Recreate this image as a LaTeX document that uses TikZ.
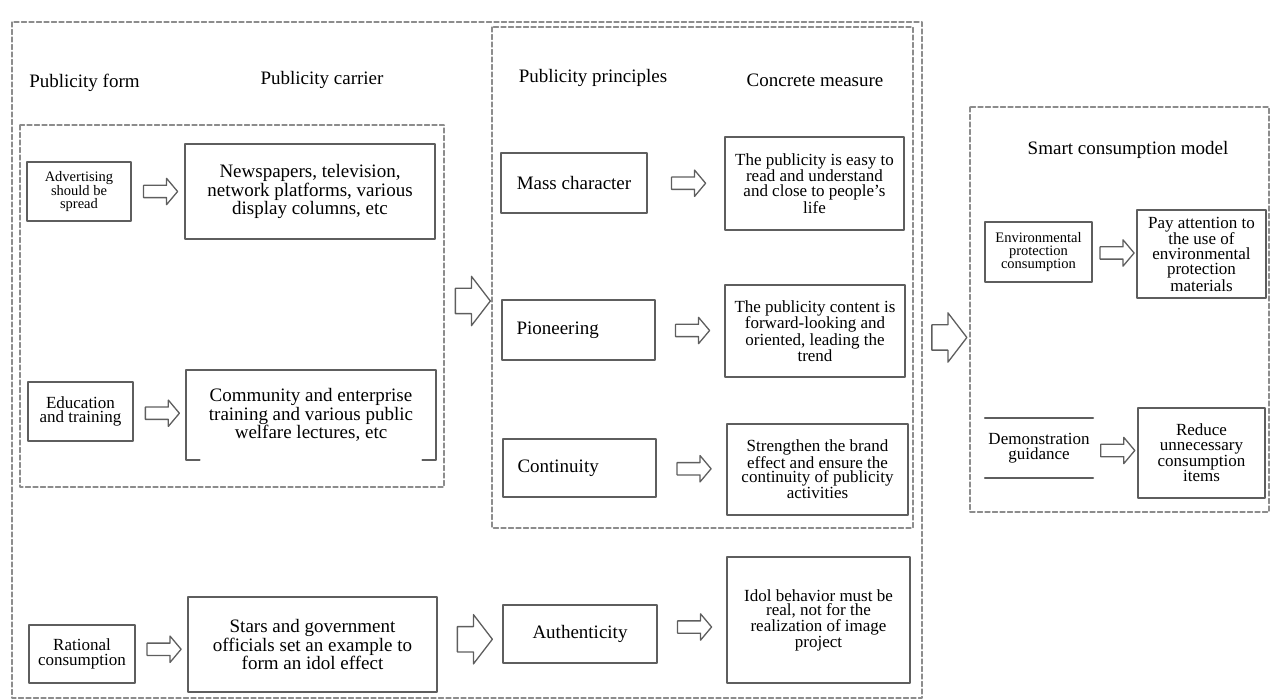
\documentclass[tikz,border=0pt]{standalone}
\usepackage{fontspec}
\setmainfont{Liberation Serif}
\usetikzlibrary{shapes.arrows,calc,positioning}
\definecolor{linegray}{HTML}{5E5E5E}
\definecolor{dashgray}{HTML}{8C8C8C}
\tikzset{
  box/.style={draw=linegray,line width=1.6pt,align=center,inner sep=2pt},
  dbox/.style={draw=dashgray,line width=1.3pt,dash pattern=on 5pt off 2.5pt},
  arr/.style={single arrow,draw=linegray,line width=1.3pt,inner xsep=0pt,inner ysep=5.5pt,
    single arrow head extend=7pt,minimum height=34pt,single arrow tip angle=100},
  bigarr/.style={arr,inner ysep=12pt,single arrow head extend=12pt,minimum height=35pt,single arrow tip angle=105},
  head/.style={font=\fontsize{19}{20}\selectfont},
  sm/.style={font=\fontsize{14.5}{13}\selectfont},
  md/.style={font=\fontsize{17}{14.5}\selectfont},
  lg/.style={font=\fontsize{19}{15}\selectfont}
}

\begin{document}
\begin{tikzpicture}[x=1pt,y=-1pt,line join=round,line cap=round]
\useasboundingbox (0,0) rectangle (1272,700);
% dashed groups
\draw[dbox] (12,22) rectangle (922,698);
\draw[dbox] (20,125) rectangle (444,487);
\draw[dbox] (492,27) rectangle (913,528);
\draw[dbox] (970,107) rectangle (1269,512);
% headings
\node[head] (h1) at (84.5,83) {Publicity form};
\node[head] (h2) at (322,80) {Publicity carrier};
\node[head] (h3) at (593,78) {Publicity principles};
\node[head] (h4) at (815,80) {Concrete measure};
\node[head] (h5) at (1128,150) {Smart consumption model};
% publicity form
\node[box,sm,minimum width=104pt,minimum height=59pt] (f1) at (79,191.5) {Advertising\\should be\\spread};
\node[box,md,minimum width=105pt,minimum height=59pt] (f2) at (80.5,411.5) {Education\\and training};
\node[box,md,minimum width=106pt,minimum height=58pt] (f3) at (82,654) {Rational\\consumption};
% publicity carrier
\node[box,lg,minimum width=250pt,minimum height=95pt] (c1) at (310,191.5) {Newspapers, television,\\network platforms, various\\display columns, etc};
\node[lg,align=center,inner sep=2pt,minimum width=250pt,minimum height=90pt] (c2) at (311,415) {Community and enterprise\\training and various public\\welfare lectures, etc};
\draw[linegray,line width=1.6pt] ($(c2.south west)+(14,0)$) -- (c2.south west) -- (c2.north west) -- (c2.north east) -- (c2.south east) -- ++(-14,0);
\node[box,lg,minimum width=249pt,minimum height=95pt] (c3) at (312.5,644.5) {Stars and government\\officials set an example to\\form an idol effect};
% publicity principles
\node[box,lg,minimum width=146pt,minimum height=60pt] (p1) at (574,183) {Mass character};
\node[box,lg,minimum height=60pt,text width=124pt,inner xsep=14.5pt,align=left] (p2) at (578.5,330) {Pioneering};
\node[box,lg,minimum height=58pt,text width=124pt,inner xsep=14.5pt,align=left] (p3) at (579.5,468) {Continuity};
\node[box,lg,minimum width=154pt,minimum height=58pt] (p4) at (580,634) {Authenticity};
% concrete measure
\node[box,md,minimum width=179pt,minimum height=93pt] (m1) at (814.5,183.5) {The publicity is easy to\\read and understand\\and close to people's\\life};
\node[box,md,minimum width=180pt,minimum height=92pt] (m2) at (815,331) {The publicity content is\\forward-looking and\\oriented, leading the\\trend};
\node[box,md,minimum width=181pt,minimum height=91pt] (m3) at (817.5,469.5) {Strengthen the brand\\effect and ensure the\\continuity of publicity\\activities};
\node[box,md,minimum width=183pt,minimum height=126pt] (m4) at (818.5,620) {Idol behavior must be\\real, not for the\\realization of image\\project};
% smart consumption model
\node[box,sm,minimum width=107pt,minimum height=60pt] (e1) at (1038.5,252) {Environmental\\protection\\consumption};
\node[box,md,font=\fontsize{17}{15}\selectfont,minimum width=129pt,minimum height=88pt] (e2) at (1201.5,254) {Pay attention to\\the use of\\environmental\\protection\\materials};
\node[md,align=center,inner sep=2pt,minimum width=108pt,minimum height=60pt] (d1) at (1039,448) {Demonstration\\guidance};
\draw[linegray,line width=1.6pt] (d1.north west) -- (d1.north east) (d1.south west) -- (d1.south east);
\node[box,md,minimum width=127pt,minimum height=90pt] (d2) at (1201.5,453) {Reduce\\unnecessary\\consumption\\items};
% arrows
\foreach \u/\v in {f1/c1,f2/c2,f3/c3,p1/m1,p2/m2,p3/m3,p4/m4,e1/e2,d1/d2}{
  \node[arr] (a-\u) at ($(\u.east)!0.5!(\v.west)$) {};
}
\node[bigarr] (b1) at (468,301) {};
\node[bigarr] (b2) at ($(c3.east)!0.5!(p4.west)$) {};
\node[bigarr] (b3) at (944.5,337.5) {};
\end{tikzpicture}
\end{document}
